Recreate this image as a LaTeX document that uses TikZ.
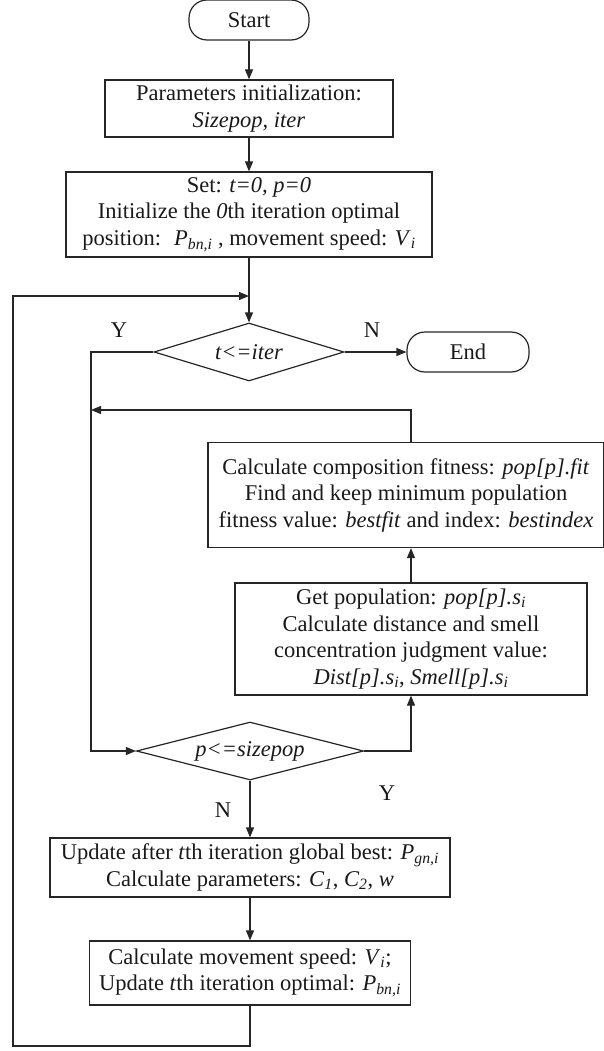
\documentclass[tikz,border=0pt]{standalone}
\usepackage{fontspec}
\setmainfont{Liberation Serif}
\usetikzlibrary{arrows.meta, shapes.geometric}
\newcommand{\isub}[1]{\textsubscript{\textit{#1}}}

\begin{document}
\begin{tikzpicture}[x=1pt, y=-1pt,
		font={\fontsize{22.5}{26.5}\selectfont},
		line width=1.2pt, draw=black!85, text=black!90,
		block/.style={draw, rectangle, align=center, inner sep=2pt},
		termblock/.style={draw, rectangle, rounded corners=18pt,
			minimum width=120pt, minimum height=40pt},
		decblock/.style={draw, diamond, aspect=4, inner sep=0pt, minimum height=58pt},
		arrow/.style={-{Triangle[length=10pt, width=8pt]}},
		]
		\useasboundingbox (0,0) rectangle (604,1051);
		
		%% ── MAIN COLUMN ─────────────────────────────────────
		\node[termblock] (start) at (249,20) {Start};
		\node[block, minimum width=288pt, minimum height=57pt] (param) at (249,108.5)
			{Parameters initialization:\\\textit{Sizepop, iter}};
		\node[block, minimum width=366pt, minimum height=85pt] (set) at (249,214.5)
			{Set: \textit{t=0, p=0}\\Initialize the \textit{0}th iteration optimal\\
			 position:~ \textit{P}\isub{bn,i} , movement speed: \textit{V}\isub{i}};
		\node[decblock, minimum width=190pt] (tcheck) at (249,352) {\textit{t<=iter}};
		\node[termblock, minimum width=122pt] (end) at (468,352) {End};
		
		\draw[arrow] (start) -- (param);
		\draw[arrow] (param) -- (set);
		\draw[arrow] (set) -- (tcheck);
		\draw[arrow] (tcheck) -- (end);
		\node (nlabel) at (372,330) {N};
		\node (ylabel) at (119,330) {Y};
		
		%% ── INNER LOOP (p) ──────────────────────────────────
		\node[block, minimum width=396pt, minimum height=105pt] (fit) at (406,495)
			{Calculate composition fitness: \textit{pop[p].fit}\\
			 Find and keep minimum population\\
			 fitness value: \textit{bestfit} and index: \textit{bestindex}};
		\node[block, minimum width=352pt, minimum height=112pt] (getpop) at (411,639)
			{Get population: \textit{pop[p].s}\isub{i}\\Calculate distance and smell\\
			 concentration judgment value:\\
			 \textit{Dist[p].s}\isub{i}, \textit{Smell[p].s}\isub{i}};
		\node[decblock, minimum width=227pt] (pcheck) at (250,751) {\textit{p<=sizepop}};
		
		% Y branch of t
		\coordinate (yleft) at (91,410);
		\draw[arrow] (tcheck.west) -- (tcheck.west -| yleft) |- (pcheck.west);
		
		% back to the p check
		\coordinate (ret) at (411,410);
		\draw[arrow] (fit.north -| getpop) -- (ret) -- (yleft);
		
		\draw[arrow] (pcheck.east) -| (getpop.south);
		\draw[arrow] (getpop.north) -- (getpop.north |- fit.south);
		\node (ylabel2) at (387,793) {Y};
		
		%% ── UPDATE AND OUTER LOOP (t) ───────────────────────
		\node[block, minimum width=400pt, minimum height=59pt] (upd) at (250,867.5)
			{Update after \textit{t}th iteration global best: \textit{P}\isub{gn,i}\\
			 Calculate parameters: \textit{C}\isub{1}, \textit{C}\isub{2}, \textit{w}};
		\node[block, minimum width=321pt, minimum height=64pt] (mov) at (250,973)
			{Calculate movement speed: \textit{V}\isub{i};\\
			 Update \textit{t}th iteration optimal: \textit{P}\isub{bn,i}};
		
		\draw[arrow] (pcheck) -- (upd);
		\node (nlabel2) at (223,810) {N};
		\draw[arrow] (upd) -- (mov);
		
		% back to the t check
		\coordinate (loopcorner) at (13,1046);
		\coordinate (loopin) at (249,296);
		\draw[arrow] (mov) -- (mov |- loopcorner) -- (loopcorner) |- (loopin);
		
	\end{tikzpicture}
\end{document}
